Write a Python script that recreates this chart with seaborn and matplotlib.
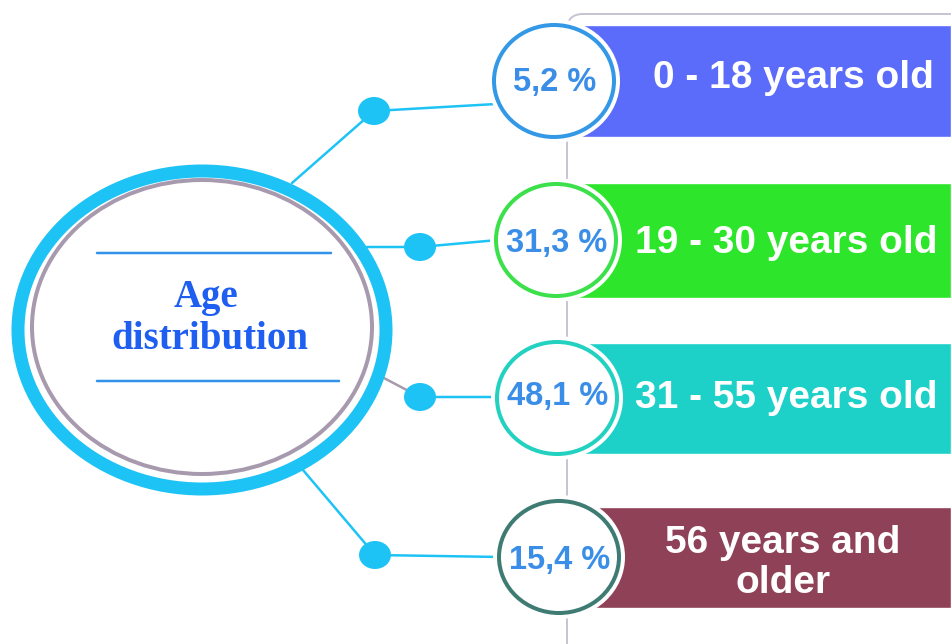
import matplotlib
matplotlib.use("Agg")
import matplotlib.pyplot as plt
from matplotlib.patches import Ellipse, FancyBboxPatch
import seaborn as sns

# ---- data ----
categories = ["0 - 18 years old", "19 - 30 years old", "31 - 55 years old", "56 years and\nolder"]
percentages = [5.2, 31.3, 48.1, 15.4]
bar_colors = ["#5B6CFB", "#2DE52B", "#1DD1C8", "#8F4157"]
ring_colors = ["#3399E6", "#3BE04A", "#22D1C0", "#3E7B72"]
title_lines = ["Age", "distribution"]

sns.set_theme(style="white")
plt.rcParams['font.family'] = ['Liberation Sans', 'DejaVu Sans']

W, H = 951, 644
fig = plt.figure(figsize=(W / 100, H / 100), dpi=100)
ax = fig.add_axes([0, 0, 1, 1])
ax.set_xlim(0, W)
ax.set_ylim(H, 0)
ax.axis("off")

PX = 72 / 100  # points per pixel

# layout (pixel coords)
row_y = [81, 240, 398, 557]
bar_h = [112, 115, 111, 101]
circ_x = [554, 556, 557, 559]
dot_xy = [(374, 111), (420, 247), (420, 397), (375, 555)]
big_start = [(292, 183), (367, 247), (382, 377), (303, 470)]
label_x = [793, 786, 786, 783]
label_y = [78, 243, 398, 563]
pct_y = [82, 243, 396, 560]
cyan = "#1EC3F6"

# gray frame line with rounded corner
ax.plot([567, 567], [644, 30], color="#C8C4D4", lw=2 * PX, zorder=1, solid_capstyle="butt")
ax.add_patch(FancyBboxPatch((567, 14), 600, 700, boxstyle="round,pad=0,rounding_size=16",
                            fill=False, ec="#C8C4D4", lw=2 * PX, zorder=1))

# bars
ax.barh(row_y, [W - 560] * 4, left=560, height=bar_h, color=bar_colors, zorder=2)

# labels in bars
for i, lab in enumerate(categories):
    ax.text(label_x[i], label_y[i], lab, ha="center", va="center",
            color="white", fontsize=28, fontweight="bold", linespacing=1.15, zorder=6)

# circles with percentages
for i, p in enumerate(percentages):
    cx, cy = circ_x[i], row_y[i]
    ax.add_patch(Ellipse((cx, cy), 2 * 66, 2 * 62, fc="white", ec="none", zorder=4))
    ax.add_patch(Ellipse((cx, cy), 2 * 60, 2 * 56, fc="white", ec=ring_colors[i],
                         lw=4 * PX, zorder=5))
    txt = f"{p:.1f}".replace(".", ",") + " %"
    ax.text(cx + 1, pct_y[i], txt, ha="center", va="center", color="#3A8EE8",
            fontsize=23.5, fontweight="bold", zorder=6)

# connectors
for i in range(4):
    sx, sy = big_start[i]
    dx, dy = dot_xy[i]
    c1 = "#A89AAE" if i == 2 else cyan
    ax.plot([sx, dx], [sy, dy], color=c1, lw=2.5 * PX, zorder=3)
    end_y = 104 if i == 0 else row_y[i] - (1 if i == 2 else 0)
    ax.plot([dx, circ_x[i] - 58], [dy, end_y], color=cyan, lw=2.5 * PX, zorder=3)
    ax.add_patch(Ellipse((dx, dy), 32, 28, fc=cyan, ec="none", zorder=4))

# big central circle
ax.add_patch(Ellipse((202, 330), 2 * 184, 2 * 159, fc="white", ec=cyan, lw=13 * PX, zorder=6))
ax.add_patch(Ellipse((202, 327), 2 * 170, 2 * 147, fc="white", ec="#A89AAE", lw=4 * PX, zorder=7))
ax.plot([97, 331], [253, 253], color="#3092E8", lw=2.5 * PX, zorder=8)
ax.plot([97, 339], [381, 381], color="#3092E8", lw=2.5 * PX, zorder=8)
ax.text(206, 297, title_lines[0], ha="center", va="center", color="#1E5EF0",
        fontsize=28, fontweight="bold", family=["Liberation Serif", "DejaVu Serif"], zorder=9)
ax.text(210, 339, title_lines[1], ha="center", va="center", color="#1E5EF0",
        fontsize=28, fontweight="bold", family=["Liberation Serif", "DejaVu Serif"], zorder=9)

fig.savefig("out.png", dpi=100, facecolor="white")
